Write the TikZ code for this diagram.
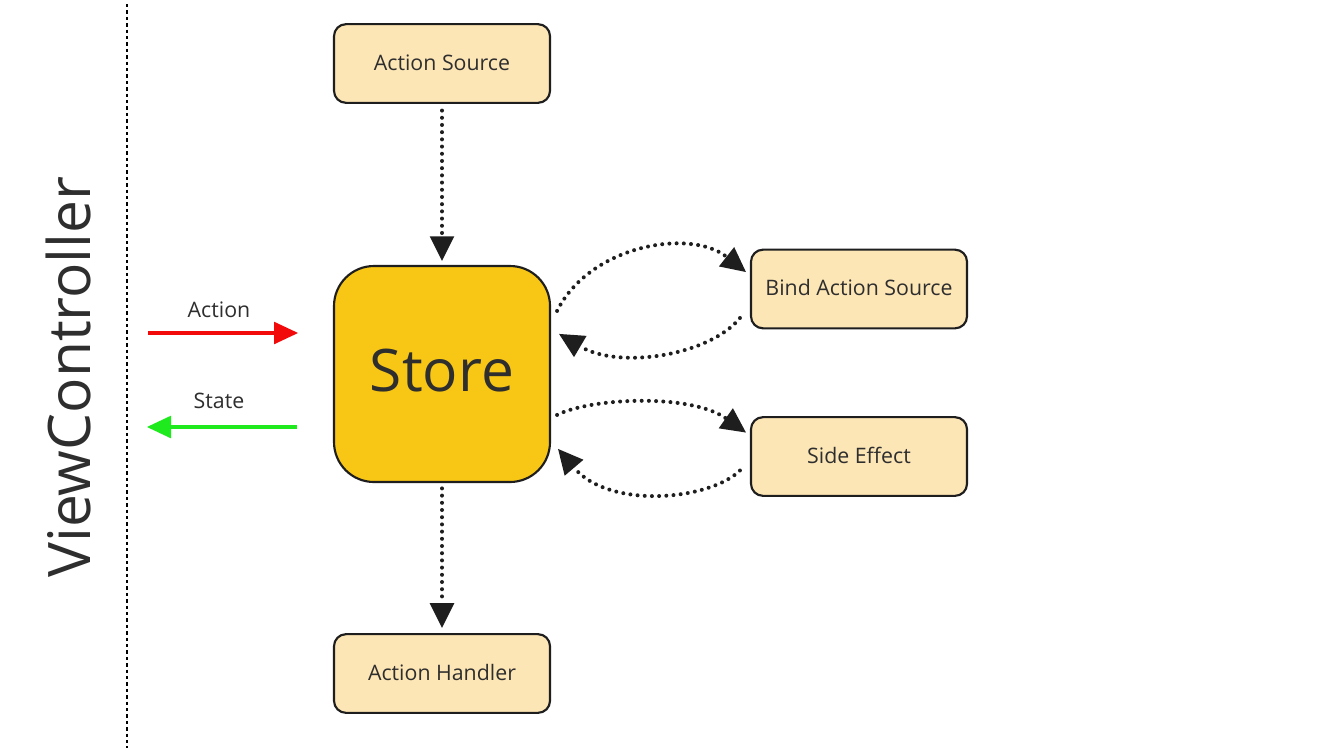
\documentclass[tikz,border=0pt]{standalone}
\usepackage{fontspec}
\setmainfont{Open Sans}
\usetikzlibrary{arrows.meta}
\definecolor{boxfill}{HTML}{FDE6B6}
\definecolor{storefill}{HTML}{F8C614}
\definecolor{ink}{HTML}{1E1E1E}
\definecolor{txt}{HTML}{2E2E2E}
\definecolor{actred}{HTML}{F20A0A}
\definecolor{stgreen}{HTML}{1EEA1E}
\tikzset{
  smallbox/.style={draw=ink, line width=1.6pt, fill=boxfill, rounded corners=9pt,
    minimum width=162pt, minimum height=59pt, inner sep=0pt, text=txt,
    font=\fontsize{16pt}{19pt}\selectfont},
  storebox/.style={draw=ink, line width=1.6pt, fill=storefill, rounded corners=30pt,
    minimum width=162pt, minimum height=162pt, inner sep=0pt, text=txt,
    font=\fontsize{44pt}{50pt}\selectfont},
  lbl/.style={text=txt, font=\fontsize{16pt}{19pt}\selectfont, inner sep=0pt},
  dotarrow/.style={draw=ink, line width=3pt, line cap=round, dash pattern=on 0pt off 5.4pt,
    -{Triangle[length=18.5pt,width=18.5pt,fill=ink,line width=0pt]}},
  flowarrow/.style={line width=2.3pt, -{Triangle[length=18pt,width=17pt,line width=0pt]}},
  separator/.style={draw=black, line width=0.8pt, dash pattern=on 2.6pt off 2.2pt},
}
\begin{document}
\begin{tikzpicture}[x=0.75pt, y=-0.75pt]
\useasboundingbox (0,0) rectangle (1333,750);
\fill[white] (0,0) rectangle (1333,750);

% separator
\coordinate (sepTop) at (127,4);
\coordinate (sepBot) at (127,748);
\draw[separator] (sepTop) -- (sepBot);

% title
\node[rotate=90, text=txt, font=\fontsize{44pt}{50pt}\selectfont, inner sep=0pt] (vc) at (68,377) {ViewController};

% nodes
\node[smallbox] (src) at (442,63.5) {\raisebox{1.5pt}{Action Source}};
\node[storebox] (store) at (442,374) {\raisebox{5pt}{Store}};
\node[smallbox] (bind) at (859,289) {\raisebox{2pt}{Bind Action Source}};
\node[smallbox] (side) at (859,456.5) {\raisebox{1.5pt}{Side Effect}};
\node[smallbox] (handler) at (442,673.5) {\raisebox{1.5pt}{Action Handler}};

% vertical connectors
\draw[dotarrow] ([yshift=-5pt]src.south) -- ([yshift=3pt]store.north);
\draw[dotarrow] ([yshift=-4pt]store.south) -- ([yshift=4pt]handler.north);

% curved connectors
\draw[dotarrow] ([shift={(6,46)}]store.north east) .. controls (590,245) and (690,228) .. ([shift={(-4,-17)}]bind.west);
\draw[dotarrow] ([shift={(-10,29)}]bind.west) .. controls (710,355) and (620,370) .. ([shift={(8,69)}]store.north east);
\draw[dotarrow] ([shift={(6,150)}]store.north east) .. controls (590,398) and (690,393) .. ([shift={(-4,-24)}]side.west);
\draw[dotarrow] ([shift={(-10,14)}]side.west) .. controls (710,500) and (610,510) .. ([shift={(7,184)}]store.north east);

% action / state
\coordinate (actStart) at (148,333);
\coordinate (actEnd) at (298,333);
\coordinate (stStart) at (297,427);
\coordinate (stEnd) at (147,427);
\draw[flowarrow, draw=actred, fill=actred] (actStart) -- (actEnd);
\draw[flowarrow, draw=stgreen, fill=stgreen] (stStart) -- (stEnd);
\node[lbl] (actlbl) at (219,310) {Action};
\node[lbl] (stlbl) at (219,401) {State};
\end{tikzpicture}
\end{document}
